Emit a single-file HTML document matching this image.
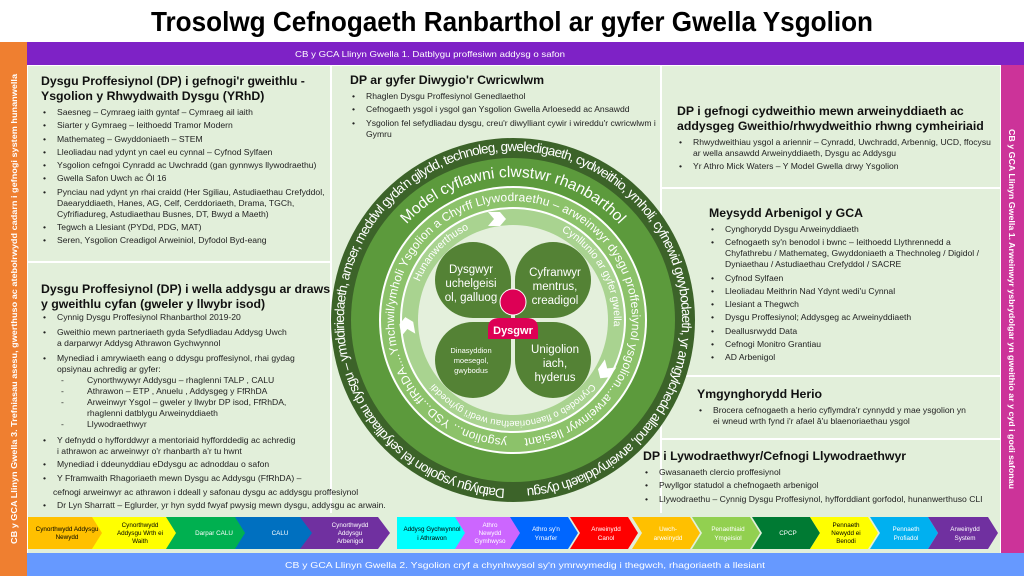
<!DOCTYPE html>
<html><head><meta charset="utf-8">
<style>
*{margin:0;padding:0;box-sizing:border-box}
body{width:1024px;height:576px;overflow:hidden;background:#fff;font-family:"Liberation Sans",Arial,sans-serif;position:relative;color:#111}
.abs{position:absolute}
.panel{position:absolute;background:#e2efda}
h3{font-size:12.3px;font-weight:bold;line-height:15px;color:#111}
.b{position:relative;padding-left:16px;font-size:8.6px;line-height:11px;color:#222;margin-top:2.3px}
.b:before{content:"•";position:absolute;left:2px;top:0}
.d{position:relative;padding-left:46px;font-size:8.6px;line-height:11px;color:#222}
.d:before{content:"-";position:absolute;left:20px}
</style></head><body>
<svg class="abs" style="left:0;top:0" width="1024" height="576">
<text x="512" y="31" text-anchor="middle" font-family="Liberation Sans" font-weight="bold" font-size="28" textLength="722" lengthAdjust="spacingAndGlyphs">Trosolwg Cefnogaeth Ranbarthol ar gyfer Gwella Ysgolion</text>
<rect x="0" y="42" width="27" height="534" fill="#ef7f30"/>
<rect x="27" y="42" width="997" height="23" fill="#7e22c6"/>
<text x="430" y="57" text-anchor="middle" fill="#fff" font-size="8.5" textLength="270" lengthAdjust="spacingAndGlyphs">CB y GCA Llinyn Gwella 1.    Datblygu proffesiwn addysg o safon</text>
<rect x="27" y="65" width="974" height="488" fill="#fff"/>
<rect x="1001" y="65" width="23" height="488" fill="#cc3399"/>
<rect x="27" y="553" width="997" height="23" fill="#6699ff"/>
<text x="525" y="568" text-anchor="middle" fill="#fff" font-size="8.5" textLength="480" lengthAdjust="spacingAndGlyphs">CB y GCA Llinyn Gwella 2.    Ysgolion cryf a chynhwysol sy'n ymrwymedig i thegwch, rhagoriaeth a llesiant</text>
<text transform="translate(17,309) rotate(-90)" text-anchor="middle" fill="#fff" font-size="8.5" font-weight="bold" textLength="470" lengthAdjust="spacingAndGlyphs">CB y GCA Llinyn Gwella 3.    Trefniasau asesu, gwerthuso ac atebolrwydd cadarn i gefnogi  system hunanwella</text>
<text transform="translate(1009,309) rotate(90)" text-anchor="middle" fill="#fff" font-size="8.5" font-weight="bold" textLength="360" lengthAdjust="spacingAndGlyphs">CB y GCA Llinyn Gwella 1.    Arweinwyr ysbrydolgar yn gweithio ar y cyd i godi safonau</text>
</svg>

<div class="panel" style="left:28px;top:66px;width:302px;height:195px"></div>
<div class="panel" style="left:28px;top:263px;width:302px;height:250px"></div>
<div class="panel" style="left:332px;top:66px;width:328px;height:447px"></div>
<div class="panel" style="left:662px;top:66px;width:338px;height:121px"></div>
<div class="panel" style="left:662px;top:189px;width:338px;height:186px"></div>
<div class="panel" style="left:662px;top:377px;width:338px;height:61px"></div>
<div class="panel" style="left:662px;top:440px;width:338px;height:73px"></div>
<div class="panel" style="left:28px;top:513px;width:972px;height:40px"></div>

<svg class="abs" style="left:0;top:0" width="1024" height="576">
<defs>
<path id="p1" d="M513,489 A169,169 0 1 1 513,151 A169,169 0 1 1 513,489"/>
<path id="p2" d="M513,463 A143,143 0 1 1 513,177 A143,143 0 1 1 513,463"/>
<path id="p3" d="M513,439 A119,119 0 1 1 513,201 A119,119 0 1 1 513,439"/>
<path id="p4" d="M513,219 A101,101 0 1 1 513,421 A101,101 0 1 1 513,219"/>
</defs>
<circle cx="513" cy="320" r="182" fill="#3c6329"/>
<circle cx="513" cy="320" r="162" fill="#5c9a3c"/>
<circle cx="513" cy="320" r="134" fill="#fff"/>
<circle cx="513" cy="320" r="132" fill="#8cc26a"/>
<circle cx="513" cy="320" r="113" fill="#fff"/>
<circle cx="513" cy="320" r="111" fill="#a9d390"/>
<circle cx="513" cy="320" r="95" fill="#e4f0dc"/>
<g fill="#fff" font-family="Liberation Sans" >
<text font-size="13.5"><textPath href="#p1" startOffset="8" textLength="1040" lengthAdjust="spacing">Datblygu ysgolion fel sefydliadau dysgu – ymddiriedaeth, amser, meddwl gyda'n gilydd, technoleg, gweledigaeth, cydweithio, ymholi, cyfnewid gwybodaeth, yr amgylchedd allanol, arweinyddiaeth dysgu</textPath></text>
<text font-size="15.5"><textPath href="#p2" startOffset="50%" text-anchor="middle">Model cyflawni clwstwr rhanbarthol</textPath></text>
<text font-size="12"><textPath href="#p3" startOffset="6" textLength="730" lengthAdjust="spacing">ysgolion... YSD...ffRhDA....Ymchwil/ymholi Ysgolion a Chyrff Llywodraethu – arweinwyr dysgu proffesiynol ysgolion...arweinwyr llesiant</textPath></text>
<text font-size="10.5"><textPath href="#p4" startOffset="87%" text-anchor="middle">Hunanwerthuso</textPath></text>
<text font-size="10.5"><textPath href="#p4" startOffset="17%" text-anchor="middle">Cynllunio ar gyfer gwella</textPath></text>
<text font-size="9.5"><textPath href="#p4" startOffset="50%" text-anchor="middle">Crynodeb o flaenoriaethau wedi'i gyhoeddi</textPath></text>
</g>
<g fill="#fff">
<path d="M-8,-7 L4,-7 L10,0 L4,7 L-8,7 L-2,0Z" transform="translate(496,219) rotate(0)"/>
<path d="M-8,-7 L4,-7 L10,0 L4,7 L-8,7 L-2,0Z" transform="translate(606,370) rotate(125)"/>
<path d="M-8,-7 L4,-7 L10,0 L4,7 L-8,7 L-2,0Z" transform="translate(407,327) rotate(-100)"/>
</g>
<g fill="#548235">
<path d="M511,318 L511,280 A38,38 0 0 0 473,242 A38,38 0 0 0 435,280 A38,38 0 0 0 473,318Z"/>
<path d="M515,318 L515,280 A38,38 0 0 1 553,242 A38,38 0 0 1 591,280 A38,38 0 0 1 553,318Z"/>
<path d="M511,322 L511,360 A38,38 0 0 1 473,398 A38,38 0 0 1 435,360 A38,38 0 0 1 473,322Z"/>
<path d="M515,322 L515,360 A38,38 0 0 0 553,398 A38,38 0 0 0 591,360 A38,38 0 0 0 553,322Z"/>
</g>
<g fill="#fff" font-family="Liberation Sans" text-anchor="middle">
<text font-size="11.5"><tspan x="471" y="273">Dysgwyr</tspan><tspan x="471" y="287">uchelgeisi</tspan><tspan x="471" y="301">ol, galluog</tspan></text>
<text font-size="11.5"><tspan x="555" y="276">Cyfranwyr</tspan><tspan x="555" y="290">mentrus,</tspan><tspan x="555" y="304">creadigol</tspan></text>
<text font-size="7.5"><tspan x="471" y="353">Dinasyddion</tspan><tspan x="471" y="363">moesegol,</tspan><tspan x="471" y="373">gwybodus</tspan></text>
<text font-size="11.5"><tspan x="555" y="353">Unigolion</tspan><tspan x="555" y="367">iach,</tspan><tspan x="555" y="381">hyderus</tspan></text>
</g>
<circle cx="513" cy="302" r="13" fill="#dd0055" stroke="#fff" stroke-width="1"/>
<path d="M488,339 L488,328 Q488,318 500,318 L526,318 Q538,318 538,328 L538,339Z" fill="#dd0055"/>
<text x="513" y="334" fill="#fff" font-size="11" font-weight="bold" text-anchor="middle">Dysgwr</text>

<g font-family="Liberation Sans" font-size="6.3" text-anchor="middle">
<path d="M28,517 H100 L110,533 L100,549 H28Z" fill="#ffc000"/>
<text x="67" y="531">Cynorthwydd Addysgu</text><text x="67" y="539">Newydd</text>
<path d="M92,517 H172 L182,533 L172,549 H92 L102,533Z" fill="#ffff00"/>
<text x="140" y="527">Cynorthwydd</text><text x="140" y="535">Addysgu Wrth ei</text><text x="140" y="543">Waith</text>
<path d="M166,517 H248 L258,533 L248,549 H166 L176,533Z" fill="#00b050"/>
<text x="214" y="535" fill="#fff">Darpar CALU</text>
<path d="M235,517 H318 L330,533 L318,549 H235 L245,533Z" fill="#0070c0"/>
<text x="280" y="535" fill="#fff">CALU</text>
<path d="M300,517 H378 L390,533 L378,549 H300 L312,533Z" fill="#7030a0"/>
<text x="350" y="527" fill="#fff">Cynorthwydd</text><text x="350" y="535" fill="#fff">Addysgu</text><text x="350" y="543" fill="#fff">Arbenigol</text>

<path d="M397,517 H460 L470,533 L460,549 H397Z" fill="#00ffff"/>
<text x="432" y="531">Addysg Gychwynnol</text><text x="432" y="540">i Athrawon</text>
<path d="M455,517 H513 L523,533 L513,549 H455 L465,533Z" fill="#cc66ff"/>
<text x="490" y="527" fill="#fff">Athro</text><text x="490" y="535" fill="#fff">Newydd</text><text x="490" y="543" fill="#fff">Gymhwyso</text>
<path d="M510,517 H568 L578,533 L568,549 H510 L520,533Z" fill="#0066ff"/>
<text x="546" y="531" fill="#fff">Athro sy'n</text><text x="546" y="540" fill="#fff">Ymarfer</text>
<path d="M570,517 H628 L638,533 L628,549 H570 L580,533Z" fill="#ff0000"/>
<text x="606" y="531" fill="#fff">Arweinydd</text><text x="606" y="540" fill="#fff">Canol</text>
<path d="M632,517 H690 L700,533 L690,549 H632 L642,533Z" fill="#ffc000"/>
<text x="668" y="531" fill="#fff">Uwch-</text><text x="668" y="540" fill="#fff">arweinydd</text>
<path d="M692,517 H750 L760,533 L750,549 H692 L702,533Z" fill="#92d050"/>
<text x="728" y="531" fill="#fff">Penaethiaid</text><text x="728" y="540" fill="#fff">Ymgeisiol</text>
<path d="M752,517 H810 L820,533 L810,549 H752 L762,533Z" fill="#007a33"/>
<text x="788" y="535" fill="#fff">CPCP</text>
<path d="M810,517 H868 L878,533 L868,549 H810 L820,533Z" fill="#ffff00"/>
<text x="846" y="527">Pennaeth</text><text x="846" y="535">Newydd ei</text><text x="846" y="543">Benodi</text>
<path d="M870,517 H928 L938,533 L928,549 H870 L880,533Z" fill="#00b0f0"/>
<text x="906" y="531" fill="#fff">Pennaeth</text><text x="906" y="540" fill="#fff">Profiadol</text>
<path d="M928,517 H988 L998,533 L988,549 H928 L938,533Z" fill="#7030a0"/>
<text x="965" y="531" fill="#fff">Arweinydd</text><text x="965" y="540" fill="#fff">System</text>
</g>
</svg>

<div class="abs" style="left:41px;top:74px;width:290px">
<h3>Dysgu Proffesiynol (DP) i gefnogi'r gweithlu -<br>Ysgolion y Rhwydwaith Dysgu (YRhD)</h3>
<div style="margin-top:3px">
<div class="b">Saesneg – Cymraeg iaith gyntaf – Cymraeg ail iaith</div>
<div class="b">Siarter y Gymraeg – Ieithoedd Tramor Modern</div>
<div class="b">Mathemateg – Gwyddoniaeth – STEM</div>
<div class="b">Lleoliadau nad ydynt yn cael eu cynnal – Cyfnod Sylfaen</div>
<div class="b">Ysgolion cefngoi Cynradd ac Uwchradd (gan gynnwys llywodraethu)</div>
<div class="b">Gwella Safon Uwch ac Ôl 16</div>
<div class="b">Pynciau nad ydynt yn rhai craidd (Her Sgiliau, Astudiaethau Crefyddol, Daearyddiaeth, Hanes, AG, Celf, Cerddoriaeth, Drama, TGCh, Cyfrifiadureg, Astudiaethau Busnes, DT, Bwyd a Maeth)</div>
<div class="b">Tegwch a Llesiant (PYDd, PDG, MAT)</div>
<div class="b">Seren, Ysgolion Creadigol Arweiniol, Dyfodol Byd-eang</div>
</div></div>

<div class="abs" style="left:41px;top:282px;width:280px">
<h3 style="white-space:nowrap">Dysgu Proffesiynol (DP) i wella addysgu ar draws<br>y gweithlu cyfan (gweler y llwybr isod)</h3>
<div class="b" style="margin-top:0">Cynnig Dysgu Proffesiynol Rhanbarthol 2019-20</div>
<div class="b" style="margin-top:4px">Gweithio mewn partneriaeth gyda Sefydliadau Addysg Uwch<br>a darparwyr Addysg Athrawon Gychwynnol</div>
<div class="b" style="margin-top:4px">Mynediad i amrywiaeth eang o ddysgu proffesiynol, rhai gydag opsiynau achredig ar gyfer:</div>
<div class="d">Cynorthwywyr Addysgu – rhaglenni TALP , CALU</div>
<div class="d">Athrawon – ETP , Anuelu , Addysgeg y FfRhDA</div>
<div class="d">Arweinwyr Ysgol – gweler y llwybr DP isod, FfRhDA, rhaglenni datblygu Arweinyddiaeth</div>
<div class="d">Llywodraethwyr</div>
<div class="b" style="margin-top:5px">Y defnydd o hyfforddwyr a mentoriaid hyfforddedig ac achredig<br>i athrawon ac arweinwyr o'r rhanbarth a'r tu hwnt</div>
<div class="b">Mynediad i ddeunyddiau eDdysgu ac adnoddau o safon</div>
<div class="b">Y Fframwaith Rhagoriaeth mewn Dysgu ac Addysgu (FfRhDA) –</div>
<div style="font-size:8.6px;line-height:11px;color:#222;padding-left:12px;margin-top:3px;white-space:nowrap">cefnogi arweinwyr ac athrawon i ddeall y safonau dysgu ac addysgu proffesiynol</div>
<div class="b" style="white-space:nowrap">Dr Lyn Sharratt – Eglurder, yr hyn sydd fwyaf pwysig mewn dysgu, addysgu ac arwain.</div>
</div>

<div class="abs" style="left:350px;top:73px;width:310px">
<h3>DP ar gyfer Diwygio'r Cwricwlwm</h3>
<div style="margin-top:3px">
<div class="b">Rhaglen Dysgu Proffesiynol Genedlaethol</div>
<div class="b">Cefnogaeth ysgol i ysgol gan Ysgolion Gwella Arloesedd ac Ansawdd</div>
<div class="b">Ysgolion fel sefydliadau dysgu, creu'r diwylliant cywir i wireddu'r cwricwlwm i Gymru</div>
</div></div>

<div class="abs" style="left:677px;top:104px;width:320px">
<h3>DP i gefnogi cydweithio mewn arweinyddiaeth ac addysgeg Gweithio/rhwydweithio rhwng cymheiriaid</h3>
<div style="margin-top:3px">
<div class="b">Rhwydweithiau ysgol a ariennir – Cynradd, Uwchradd, Arbennig, UCD, ffocysu ar wella ansawdd Arweinyddiaeth, Dysgu ac Addysgu</div>
<div class="b">Yr Athro Mick Waters – Y Model Gwella drwy Ysgolion</div>
</div></div>

<div class="abs" style="left:709px;top:206px;width:290px">
<h3>Meysydd Arbenigol y GCA</h3>
<div style="margin-top:3px">
<div class="b">Cynghorydd Dysgu Arweinyddiaeth</div>
<div class="b">Cefnogaeth sy'n benodol i bwnc – Ieithoedd Llythrennedd a Chyfathrebu / Mathemateg, Gwyddoniaeth a Thechnoleg / Digidol / Dyniaethau / Astudiaethau Crefyddol / SACRE</div>
<div class="b">Cyfnod Sylfaen</div>
<div class="b">Lleoliadau Meithrin Nad Ydynt wedi'u Cynnal</div>
<div class="b">Llesiant a Thegwch</div>
<div class="b">Dysgu Proffesiynol; Addysgeg ac Arweinyddiaeth</div>
<div class="b">Deallusrwydd Data</div>
<div class="b">Cefnogi Monitro Grantiau</div>
<div class="b">AD Arbenigol</div>
</div></div>

<div class="abs" style="left:697px;top:387px;width:270px">
<h3>Ymgynghorydd Herio</h3>
<div style="margin-top:3px">
<div class="b">Brocera cefnogaeth a herio cyflymdra'r cynnydd y mae ysgolion yn ei wneud wrth fynd i'r afael â'u blaenoriaethau ysgol</div>
</div></div>

<div class="abs" style="left:643px;top:449px;width:360px">
<h3>DP i Lywodraethwyr/Cefnogi Llywodraethwyr</h3>
<div style="margin-top:3px">
<div class="b">Gwasanaeth clercio proffesiynol</div>
<div class="b">Pwyllgor statudol a chefnogaeth arbenigol</div>
<div class="b" style="white-space:nowrap">Llywodraethu – Cynnig Dysgu Proffesiynol, hyfforddiant gorfodol, hunanwerthuso CLI</div>
</div></div>
</body></html>
